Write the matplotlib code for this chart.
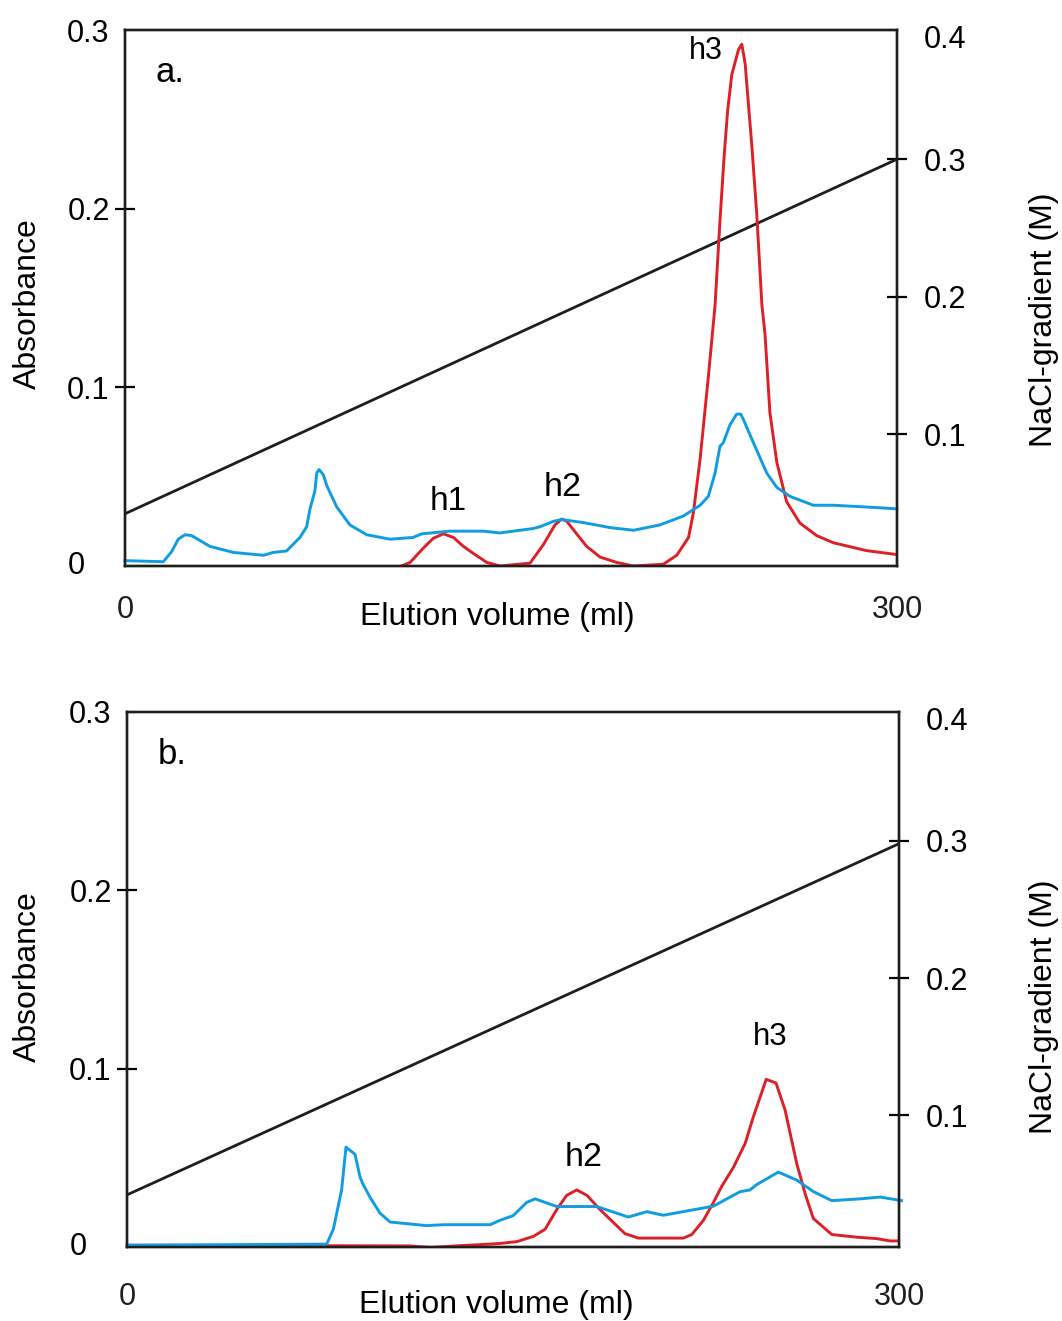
import numpy as np
import matplotlib
matplotlib.use("Agg")
import matplotlib.pyplot as plt
from matplotlib.ticker import FixedLocator, FixedFormatter

plt.rcParams['font.family'] = ['Liberation Sans', 'DejaVu Sans']
plt.rcParams['font.size'] = 22

# panel a, blue trace (absorbance)
a_blue_x = [0, 14.9, 18.1, 20.7, 23.3, 25.9, 33.0, 42.1, 53.8, 57.6, 62.8, 68.0, 70.6, 71.9,
            73.8, 74.5, 75.4, 77.1, 78.4, 82.3, 87.4, 93.9, 103, 112, 115.3, 126.3, 139.3,
            145.7, 158.7, 161.3, 166.5, 169.7, 178.1, 188.5, 197.6, 207.9, 217, 223.5, 226.7,
            229.3, 231.2, 232.5, 235.1, 237.7, 239.3, 240.3, 244.2, 249.4, 253.3, 258.4,
            267.5, 275.3, 288.2, 300]
a_blue_y = [0.003, 0.0024, 0.008, 0.015, 0.0175, 0.017, 0.011, 0.0076, 0.006, 0.0076, 0.0084,
            0.016, 0.022, 0.032, 0.042, 0.052, 0.054, 0.051, 0.045, 0.033, 0.023, 0.0175, 0.015,
            0.016, 0.018, 0.0195, 0.0195, 0.0185, 0.021, 0.022, 0.025, 0.026, 0.0243, 0.0215,
            0.020, 0.023, 0.028, 0.034, 0.039, 0.052, 0.067, 0.069, 0.079, 0.085, 0.085, 0.082,
            0.069, 0.052, 0.044, 0.039, 0.034, 0.034, 0.033, 0.032]

# panel a, red trace (activity)
a_red_x = [105.6, 110.8, 115.9, 119.8, 123.7, 127.6, 131.5, 135.4, 140.6, 145.7, 157.4, 162.6,
           167.1, 169.7, 171.7, 175.5, 179.4, 184.6, 191.1, 197.6, 209.2, 214.4, 219, 220.9,
           223.5, 226.7, 229.3, 231.2, 232.8, 234.2, 235.8, 238.4, 239.7, 241, 241.9, 243.6,
           245.5, 247.5, 248.7, 250.6, 253.3, 257.1, 262.3, 268.8, 275.3, 288.2, 300]
a_red_y = [-0.001, 0.002, 0.010, 0.0155, 0.018, 0.016, 0.011, 0.007, 0.002, 0.0, 0.0016, 0.012,
           0.023, 0.0263, 0.025, 0.018, 0.011, 0.005, 0.002, 0.0, 0.001, 0.006, 0.016, 0.030,
           0.060, 0.106, 0.146, 0.193, 0.229, 0.255, 0.275, 0.289, 0.292, 0.281, 0.265, 0.235,
           0.197, 0.146, 0.130, 0.086, 0.058, 0.036, 0.024, 0.017, 0.013, 0.0086, 0.0064]

# panel b, blue trace
b_blue_x = [0, 77.6, 80.2, 83.4, 85.1, 88.6, 90.6, 91.8, 94.4, 98.3, 102.2, 116.5, 122.9, 141.1,
            145, 150.1, 155.3, 158.6, 167, 182.5, 194.8, 202, 208.4, 227.9, 238.2, 242.1, 244.7,
            253.1, 260.3, 266.8, 273.9, 284.9, 292.7, 301]
b_blue_y = [0.001, 0.0016, 0.010, 0.032, 0.056, 0.052, 0.039, 0.035, 0.028, 0.019, 0.014, 0.012,
            0.0125, 0.0125, 0.015, 0.0176, 0.025, 0.027, 0.0227, 0.0227, 0.0168, 0.0198, 0.0178,
            0.0229, 0.031, 0.032, 0.035, 0.042, 0.0375, 0.031, 0.026, 0.027, 0.028, 0.026]

# panel b, red trace
b_red_x = [0, 60, 110, 118, 130, 140.8, 145, 151.5, 158, 162.5, 167, 170.9, 174.8, 178.7, 183.8,
           189, 193.5, 198.7, 216.2, 219.5, 224, 227.9, 231.1, 235.6, 240.2, 243.4, 248.4, 252.2,
           255.7, 260.3, 263.5, 266.7, 273.9, 283.6, 291.4, 296.5, 299.8]
b_red_y = [0.001, 0.0008, 0.0006, -0.0003, 0.0008, 0.0016, 0.002, 0.003, 0.006, 0.010, 0.021,
           0.029, 0.032, 0.029, 0.021, 0.0138, 0.0075, 0.005, 0.005, 0.007, 0.015, 0.025, 0.034,
           0.0445, 0.058, 0.073, 0.094, 0.092, 0.077, 0.0466, 0.030, 0.016, 0.007, 0.0055,
           0.0047, 0.0034, 0.0034]

# NaCl gradient (M), linear
grad_x = [0, 300]
grad_a = [0.042, 0.300]
grad_b = [0.042, 0.298]

blue = '#109ce0'
red = '#dc2026'
black = '#1e1e1e'

fig = plt.figure(figsize=(10.62, 13.21), dpi=100)

panels = [
    dict(rect=[125/1062, 1-566/1321, 772/1062, 536/1321], blue=(a_blue_x, a_blue_y),
         red=(a_red_x, a_red_y), grad=grad_a, tag='a.',
         peaks=[('h1', 125.5, 0.036, 24), ('h2', 170.2, 0.044, 24.5), ('h3', 225.8, 0.288, 22)],
         xpad=21, xlab=(0.482, -0.095), ylab=(-0.126, 0.49), rlab=(1.19, 0.459)),
    dict(rect=[127/1062, 1-1247/1321, 772/1062, 535/1321], blue=(b_blue_x, b_blue_y),
         red=(b_red_x, b_red_y), grad=grad_b, tag='b.',
         peaks=[('h2', 177.6, 0.050, 24.5), ('h3', 249.9, 0.118, 22.5)],
         xpad=25, xlab=(0.479, -0.108), ylab=(-0.128, 0.505), rlab=(1.188, 0.45)),
]

for p in panels:
    ax = fig.add_axes(p['rect'])
    ax2 = ax.twinx()
    ax.set_zorder(ax2.get_zorder() + 1)
    ax.patch.set_visible(False)

    ax.plot(p['red'][0], p['red'][1], color=red, lw=2.1)
    ax.plot(p['blue'][0], p['blue'][1], color=blue, lw=2.1, clip_on=False)
    ax2.plot(grad_x, p['grad'], color=black, lw=2.0)

    ax.set_xlim(0, 300)
    ax.set_ylim(0, 0.3)
    ax2.set_ylim(0.004, 0.394)

    for a in (ax, ax2):
        for s in a.spines.values():
            s.set_linewidth(1.7)
            s.set_color(black)

    # x axis: only end labels, no tick marks
    ax.set_xticks([0, 300])
    ax.set_xticklabels(['0', '300'])
    ax.tick_params(axis='x', length=0, pad=p['xpad'], colors=black)

    # left axis
    ax.yaxis.set_major_locator(FixedLocator([0.1, 0.2]))
    ax.yaxis.set_major_formatter(FixedFormatter(['0.1', '0.2']))
    ax.yaxis.set_minor_locator(FixedLocator([0.3]))
    ax.yaxis.set_minor_formatter(FixedFormatter(['0.3']))
    ax.tick_params(axis='y', which='major', direction='inout', length=14, width=1.6, pad=4)
    ax.tick_params(axis='y', which='minor', length=0, pad=11)
    ax.text(-0.0635, 0.0, '0', transform=ax.get_yaxis_transform(), ha='center', va='center')

    # right axis
    ax2.yaxis.set_major_locator(FixedLocator([0.1, 0.2, 0.3]))
    ax2.yaxis.set_major_formatter(FixedFormatter(['0.1', '0.2', '0.3']))
    ax2.yaxis.set_minor_locator(FixedLocator([0.389]))
    ax2.yaxis.set_minor_formatter(FixedFormatter(['0.4']))
    ax2.tick_params(axis='y', which='major', direction='inout', length=14, width=1.6, pad=12)
    ax2.tick_params(axis='y', which='minor', length=0, pad=19)

    ax.set_xlabel('Elution volume (ml)', fontsize=23, va='center')
    ax.xaxis.set_label_coords(*p['xlab'])
    ax.set_ylabel('Absorbance', fontsize=23, va='center')
    ax.yaxis.set_label_coords(*p['ylab'])
    ax2.set_ylabel('NaCl-gradient (M)', rotation=90, fontsize=23, va='center')
    ax2.yaxis.set_label_coords(*p['rlab'])

    ax.text(17.5, 0.276, p['tag'], ha='center', va='center', fontsize=25)
    for name, x, y, fs in p['peaks']:
        ax.text(x, y, name, ha='center', va='center', fontsize=fs)

fig.savefig('out.png', dpi=100)
